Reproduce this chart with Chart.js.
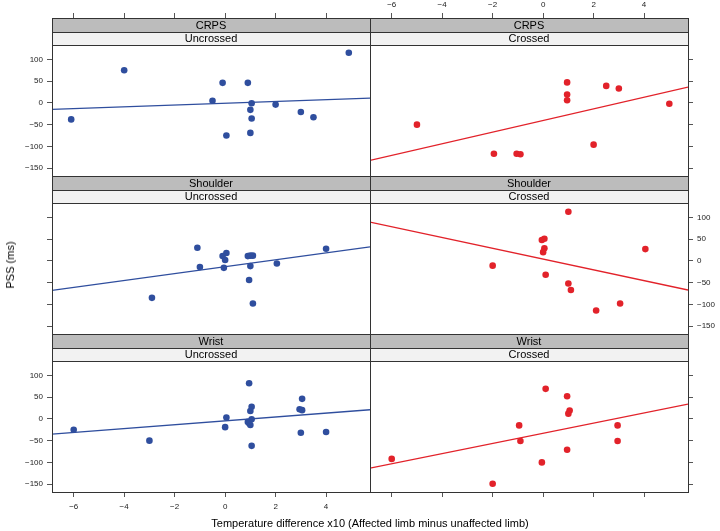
<!DOCTYPE html>
<html>
<head>
<meta charset="utf-8">
<script src="https://cdn.jsdelivr.net/npm/chart.js@4/dist/chart.umd.min.js"></script>
<style>
  body { margin: 0; background: #fff; }
  #wrap { position: relative; width: 720px; height: 531px; font-family: "Liberation Sans", Arial, sans-serif; }
  canvas { position: absolute; }
  .ttl { position: absolute; font-size: 11px; color: #000; white-space: nowrap; transform: translate(-50%, -50%); }
</style>
</head>
<body>
<div id="wrap">
  <canvas id="p1" width="371" height="177" style="left:0px;top:0px"></canvas>
  <canvas id="p2" width="351" height="177" style="left:369px;top:0px"></canvas>
  <canvas id="p3" width="371" height="160" style="left:0px;top:175px"></canvas>
  <canvas id="p4" width="351" height="160" style="left:369px;top:175px"></canvas>
  <canvas id="p5" width="371" height="198" style="left:0px;top:333px"></canvas>
  <canvas id="p6" width="351" height="198" style="left:369px;top:333px"></canvas>
  <div class="ttl" style="left:10px;top:265px;transform:translate(-50%,-50%) rotate(-90deg)">PSS (ms)</div>
  <div class="ttl" style="left:370px;top:523px">Temperature difference x10 (Affected limb minus unaffected limb)</div>
</div>
<script>
// axis ranges and ticks
var xRange = [-6.86, 5.74];
var yRange = [-168, 195]; // top part of the range is covered by the strips
var xTicks = [-6, -4, -2, 0, 2, 4];
var yTicks = [-150, -100, -50, 0, 50, 100];

// CRPS
var crpsUncrX = [-6.1, -4, -0.5, -0.1, 0.05, 0.9, 1.05, 1, 1.05, 1, 2, 3, 3.5, 4.9];
var crpsUncrY = [-38, 75, 5, 46, -75, 46, -1, -16, -36, -69, -4, -21, -33, 115];
var crpsUncrFit = [-15, 11];
var crpsCrX = [-5, -1.95, -1.05, -0.9, 0.95, 0.95, 0.95, 2, 2.5, 3, 5];
var crpsCrY = [-50, -117, -117, -118, 47, 19, 6, -96, 39, 33, -2];
var crpsCrFit = [-132, 36];

// Shoulder
var shoUncrX = [-2.9, -1.1, -1, -0.1, 0, 0.05, -0.05, 0.9, 1, 1.1, 1, 0.95, 1.1, 2.05, 4];
var shoUncrY = [-85, 30, -14, 11, 2, 18, -16, 11, 12, 12, -12, -44, -98, -6, 28];
var shoUncrFit = [-68, 32];
var shoCrX = [-2, -0.05, 0.05, 0.05, 0, 0.1, 1, 1, 1.1, 2.1, 3.05, 4.05];
var shoCrY = [-11, 48, 51, 29, 20, -32, 113, -52, -67, -114, -98, 27];
var shoCrFit = [89, -67];

// Wrist
var wriUncrX = [-6, -3, 0.05, 0, 0.95, 1.05, 1, 1.05, 0.9, 0.95, 1, 1.05, 2.95, 3.05, 3.05, 3, 4];
var wriUncrY = [-25, -50, 3, -19, 82, 28, 18, -1, -7, -10, -14, -62, 22, 20, 46, -32, -30];
var wriUncrFit = [-35, 21];
var wriCrX = [-6, -2, -0.95, -0.9, -0.05, 0.1, 0.95, 1.05, 1, 0.95, 2.95, 2.95];
var wriCrY = [-92, -149, -15, -51, -100, 69, 52, 19, 12, -71, -15, -51];
var wriCrFit = [-113, 34];

var BLUE = "#2f4e9e";
var RED = "#e2222a";
var FONT = '"Liberation Sans", Arial, sans-serif';

function minusLabel(v) {
  return v < 0 ? "\u2212" + Math.abs(v) : "" + v;
}

// no label overhang padding, fixed axis size
function fixSize(prop, size) {
  return function (s) {
    s[prop] = size;
    s.paddingLeft = 0; s.paddingRight = 0; s.paddingTop = 0; s.paddingBottom = 0;
  };
}

var stripPlugin = {
  id: "strips",
  afterDraw: function (chart) {
    var ctx = chart.ctx, a = chart.chartArea;
    var s = chart.options.plugins.strips;
    var l = a.left + 0.5, t = a.top + 0.5, w = a.right - a.left;
    ctx.save();
    ctx.fillStyle = "#bcbcbc";
    ctx.fillRect(a.left, a.top, w, 14);
    ctx.fillStyle = "#f2f2f2";
    ctx.fillRect(a.left, a.top + 14, w, 13);
    ctx.strokeStyle = "#333";
    ctx.lineWidth = 1;
    ctx.beginPath();
    ctx.moveTo(a.left, t + 14); ctx.lineTo(a.right, t + 14);
    ctx.moveTo(a.left, t + 27); ctx.lineTo(a.right, t + 27);
    ctx.stroke();
    ctx.strokeRect(l, t, w, a.bottom - a.top);
    ctx.fillStyle = "#000";
    ctx.font = "11px " + FONT;
    ctx.textAlign = "center";
    ctx.textBaseline = "middle";
    ctx.fillText(s.top, a.left + w / 2, a.top + 7.5);
    ctx.fillText(s.bottom, a.left + w / 2, a.top + 21);
    ctx.restore();
  }
};

function makePanel(id, p) {
  var pts = p.x.map(function (v, i) { return { x: v, y: p.y[i] }; });
  var fit = [{ x: xRange[0], y: p.fit[0] }, { x: xRange[1], y: p.fit[1] }];
  new Chart(document.getElementById(id), {
    type: "scatter",
    data: {
      datasets: [
        { data: pts, backgroundColor: p.col, borderWidth: 0, pointRadius: 3.3, order: 1 },
        { type: "line", data: fit, borderColor: p.col, borderWidth: 1.3, pointRadius: 0, fill: false, order: 2 }
      ]
    },
    plugins: [stripPlugin],
    options: {
      responsive: false,
      animation: false,
      devicePixelRatio: 1,
      layout: { padding: p.pad, autoPadding: false },
      plugins: {
        legend: { display: false },
        tooltip: { enabled: false },
        strips: { top: p.strip[0], bottom: p.strip[1] }
      },
      scales: {
        x: {
          type: "linear", min: xRange[0], max: xRange[1],
          display: p.xPos ? true : false,
          position: p.xPos || "bottom",
          afterBuildTicks: function (s) { s.ticks = xTicks.map(function (v) { return { value: v }; }); },
          afterFit: fixSize("height", p.xPos ? p.xH : 0),
          ticks: { display: p.xLabels, font: { size: 8, family: FONT }, color: "#222", padding: p.xPos === "top" ? 3 : 5, maxRotation: 0, callback: minusLabel },
          grid: { display: true, drawOnChartArea: false, drawTicks: true, tickLength: 5, color: "#555" },
          border: { display: false }
        },
        y: {
          type: "linear", min: yRange[0], max: yRange[1],
          position: p.yPos,
          afterBuildTicks: function (s) { s.ticks = yTicks.map(function (v) { return { value: v }; }); },
          afterFit: fixSize("width", p.yW),
          ticks: { display: p.yLabels, font: { size: 8, family: FONT }, color: "#222", padding: 4, callback: minusLabel },
          grid: { display: true, drawOnChartArea: false, drawTicks: true, tickLength: 5, color: "#555" },
          border: { display: false }
        }
      }
    }
  });
}

makePanel("p1", { x: crpsUncrX, y: crpsUncrY, fit: crpsUncrFit, col: BLUE, strip: ["CRPS", "Uncrossed"],
  xPos: "top", xLabels: false, xH: 18, yPos: "left", yLabels: true, yW: 52, pad: { left: 0, right: 1, top: 0, bottom: 1 } });
makePanel("p2", { x: crpsCrX, y: crpsCrY, fit: crpsCrFit, col: RED, strip: ["CRPS", "Crossed"],
  xPos: "top", xLabels: true, xH: 18, yPos: "right", yLabels: false, yW: 32, pad: { left: 1, right: 0, top: 0, bottom: 1 } });
makePanel("p3", { x: shoUncrX, y: shoUncrY, fit: shoUncrFit, col: BLUE, strip: ["Shoulder", "Uncrossed"],
  xPos: null, xLabels: false, yPos: "left", yLabels: false, yW: 52, pad: { left: 0, right: 1, top: 1, bottom: 1 } });
makePanel("p4", { x: shoCrX, y: shoCrY, fit: shoCrFit, col: RED, strip: ["Shoulder", "Crossed"],
  xPos: null, xLabels: false, yPos: "right", yLabels: true, yW: 32, pad: { left: 1, right: 0, top: 1, bottom: 1 } });
makePanel("p5", { x: wriUncrX, y: wriUncrY, fit: wriUncrFit, col: BLUE, strip: ["Wrist", "Uncrossed"],
  xPos: "bottom", xLabels: true, xH: 39, yPos: "left", yLabels: true, yW: 52, pad: { left: 0, right: 1, top: 1, bottom: 0 } });
makePanel("p6", { x: wriCrX, y: wriCrY, fit: wriCrFit, col: RED, strip: ["Wrist", "Crossed"],
  xPos: "bottom", xLabels: false, xH: 39, yPos: "right", yLabels: false, yW: 32, pad: { left: 1, right: 0, top: 1, bottom: 0 } });
</script>
</body>
</html>
